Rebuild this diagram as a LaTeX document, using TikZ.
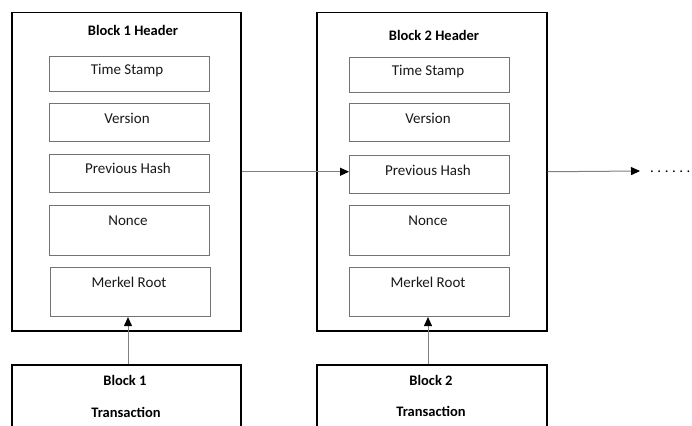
\documentclass[tikz,border=0pt]{standalone}
\usepackage{fontspec}
\setmainfont{Carlito}
\usetikzlibrary{arrows.meta}
\begin{document}
\begin{tikzpicture}[x=1pt,y=-1pt,
  outer/.style={draw=black, line width=1.5pt, anchor=north west, inner sep=0},
  field/.style={draw=black!55, line width=1.1pt, anchor=north west, inner sep=0},
  ftext/.style={font=\fontsize{15}{17}\selectfont, text=black!90, inner sep=0},
  btext/.style={font=\bfseries\fontsize{14.5}{17}\selectfont, inner sep=0},
  conn/.style={draw=black!50, line width=1pt, -{Triangle[length=9pt,width=8pt,color=black]}}]
\useasboundingbox (0,0) rectangle (692,425);
\clip (0,0) rectangle (692,425);
\fill[white] (0,0) rectangle (692,425);
% Block 1
\node[outer, minimum width=229pt, minimum height=318pt] (b1) at (11,12) {};
\node[btext] (h1) at (133,30) {Block 1 Header};
\node[field, minimum width=160pt, minimum height=35pt] (t1) at (48.5,56) {};
\node[field, minimum width=160pt, minimum height=38pt] (v1) at (48.5,103) {};
\node[field, minimum width=160pt, minimum height=38pt] (p1) at (48.5,154) {};
\node[field, minimum width=160pt, minimum height=50pt] (n1) at (48.5,205) {};
\node[field, minimum width=160pt, minimum height=49pt] (m1) at (49.5,267) {};
\node[ftext] (t1t) at (127,71) {Time Stamp};
\node[ftext] (v1t) at (127,118) {Version};
\node[ftext] (p1t) at (128,168) {Previous Hash};
\node[ftext] (n1t) at (128,221) {Nonce};
\node[ftext] (m1t) at (129,282) {Merkel Root};
% Block 2
\node[outer, minimum width=230pt, minimum height=318pt] (b2) at (316,12) {};
\node[btext] (h2) at (434,35) {Block 2 Header};
\node[field, minimum width=160pt, minimum height=35pt] (t2) at (349,57) {};
\node[field, minimum width=160pt, minimum height=38pt] (v2) at (349,103) {};
\node[field, minimum width=160pt, minimum height=38pt] (p2) at (349,155) {};
\node[field, minimum width=160pt, minimum height=50pt] (n2) at (349,205) {};
\node[field, minimum width=160pt, minimum height=49pt] (m2) at (349,267) {};
\node[ftext] (t2t) at (428,72) {Time Stamp};
\node[ftext] (v2t) at (428,118) {Version};
\node[ftext] (p2t) at (428,170) {Previous Hash};
\node[ftext] (n2t) at (428,221) {Nonce};
\node[ftext] (m2t) at (428,282) {Merkel Root};
% Transactions
\node[outer, minimum width=229pt, minimum height=80pt] (x1) at (11,364) {};
\node[btext] (x1a) at (125,380) {Block 1};
\node[btext] (x1b) at (126,412) {Transaction};
\node[outer, minimum width=230pt, minimum height=80pt] (x2) at (316,364) {};
\node[btext] (x2a) at (431,380) {Block 2};
\node[btext] (x2b) at (431,411) {Transaction};
% Connectors
\draw[conn] (b1.east) -- (b1.east -| p2.west);
\coordinate (e2) at (640,171);
\draw[conn] (b2.east) -- (e2);
\node[font=\fontsize{15}{17}\selectfont, inner sep=0, anchor=west] (dots) at (650,172) {.\hspace{3.5pt}.\hspace{3.5pt}.\hspace{3.5pt}.\hspace{3.5pt}.\hspace{3.5pt}.};
\draw[conn] (x1.north -| 128,0) -- (m1.south -| 128,0);
\draw[conn] (x2.north -| 428,0) -- (m2.south -| 428,0);
\end{tikzpicture}
\end{document}
